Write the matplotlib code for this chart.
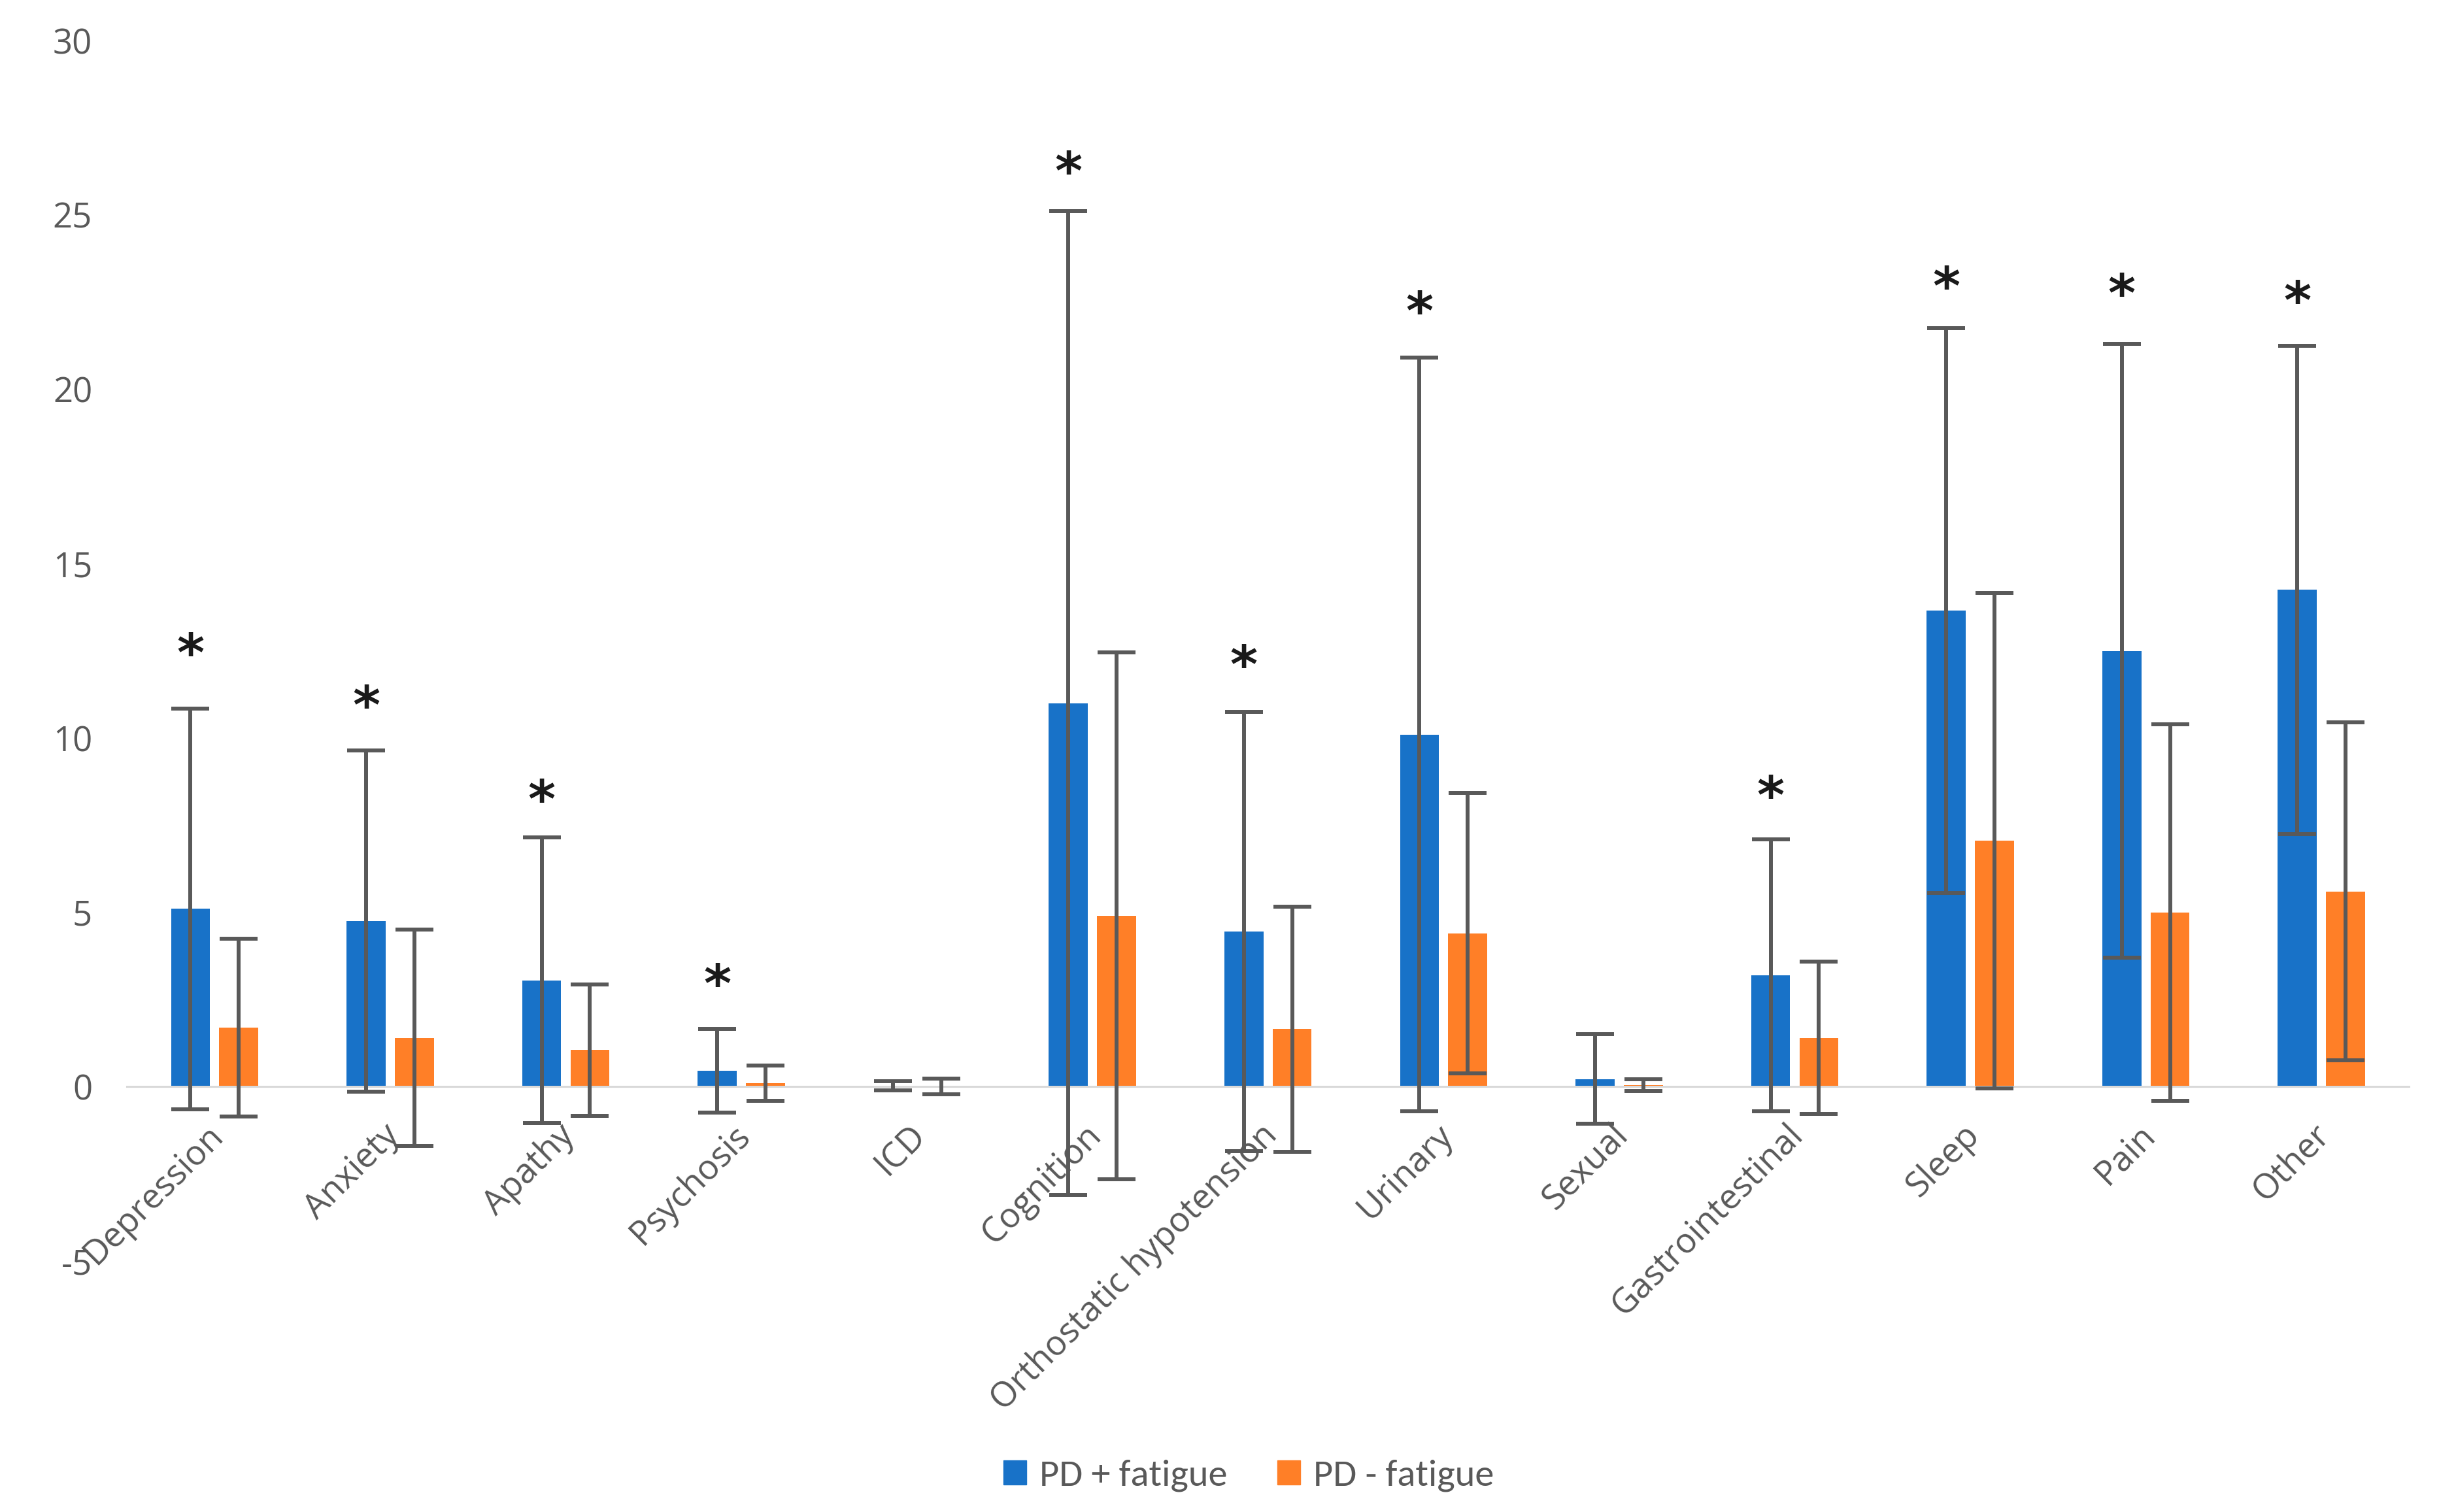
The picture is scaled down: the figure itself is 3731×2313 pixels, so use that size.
import numpy as np
import matplotlib
matplotlib.use('Agg')
import matplotlib.pyplot as plt
from matplotlib.patches import Patch
import matplotlib.transforms as mtransforms

plt.rcParams['axes.unicode_minus'] = False

# data
categories = ['Depression', 'Anxiety', 'Apathy', 'Psychosis', 'ICD', 'Cognition',
              'Orthostatic hypotension', 'Urinary', 'Sexual', 'Gastrointestinal',
              'Sleep', 'Pain', 'Other']
fatigue_mean = [5.1, 4.75, 3.05, 0.45, 0.02, 11.0, 4.45, 10.1, 0.22, 3.2, 13.65, 12.5, 14.25]
fatigue_sd = [5.75, 4.9, 4.1, 1.2, 0.13, 14.1, 6.3, 10.8, 1.28, 3.9, 8.1, 8.8, 7.0]
nofatigue_mean = [1.7, 1.4, 1.05, 0.1, 0.01, 4.9, 1.65, 4.4, 0.05, 1.4, 7.05, 5.0, 5.6]
nofatigue_sd = [2.55, 3.1, 1.88, 0.5, 0.23, 7.55, 3.52, 4.02, 0.17, 2.18, 7.1, 5.4, 4.85]
# height of the significance star (None = not significant)
star_y = [12.35, 10.85, 8.15, 2.85, None, 26.15, 12.0, 22.15, None, 8.25, 22.85, 22.65, 22.45]

blue = '#1872C8'
orange = '#FF7F27'
grey = '#595959'

fig = plt.figure(figsize=(37.31, 23.13), dpi=100)
ax = fig.add_axes([0.0520, 0.166, 0.9358, 0.8072])

x = np.arange(len(categories))
w = 0.222
off = 0.1375

ax.bar(x - off, fatigue_mean, w, color=blue, zorder=2, label='PD + fatigue')
ax.bar(x + off, nofatigue_mean, w, color=orange, zorder=2, label='PD - fatigue')
ax.errorbar(x - off, fatigue_mean, yerr=fatigue_sd, fmt='none', ecolor=grey,
            elinewidth=4.3, capsize=21, capthick=4.3, zorder=3)
ax.errorbar(x + off, nofatigue_mean, yerr=nofatigue_sd, fmt='none', ecolor=grey,
            elinewidth=4.3, capsize=21, capthick=4.3, zorder=3)

# significance stars over the fatigue bars
for i, sy in enumerate(star_y):
    if sy is not None:
        ax.text(x[i] - off, sy, '*', ha='center', va='center', fontsize=58,
                fontweight='bold', color='#1a1a1a', family='DejaVu Sans')

ax.set_xlim(-0.5, len(categories) - 0.5)
ax.set_ylim(-5, 30)
ax.set_yticks(np.arange(-5, 31, 5))

for s in ['top', 'right', 'left']:
    ax.spines[s].set_visible(False)
ax.spines['bottom'].set_position(('data', 0))
ax.spines['bottom'].set_color('#D9D9D9')
ax.spines['bottom'].set_linewidth(2.2)

ax.tick_params(axis='y', length=0, pad=38, labelsize=38, labelcolor=grey)
ax.tick_params(axis='x', length=0, pad=48, labelsize=38, labelcolor=grey)
for lab in ax.get_yticklabels():
    lab.set_family('Open Sans')

ax.set_xticks(x)
ax.set_xticklabels(categories, rotation=45, ha='right', va='center',
                   rotation_mode='anchor', family='Open Sans')
shift = mtransforms.ScaledTranslation(6 / 100, 0, fig.dpi_scale_trans)
for lab in ax.get_xticklabels():
    lab.set_transform(lab.get_transform() + shift)

handles = [Patch(color=blue, label='PD + fatigue'), Patch(color=orange, label='PD - fatigue')]
fig.legend(handles=handles, loc='center', bbox_to_anchor=(0.512, 0.024), ncol=2,
           frameon=False, prop={'family': ['Carlito', 'Liberation Sans Narrow', 'Open Sans'], 'size': 42},
           handlelength=0.6, handleheight=0.6, handletextpad=0.35, columnspacing=1.3,
           labelcolor=grey)

fig.savefig('out.png', dpi=100)
